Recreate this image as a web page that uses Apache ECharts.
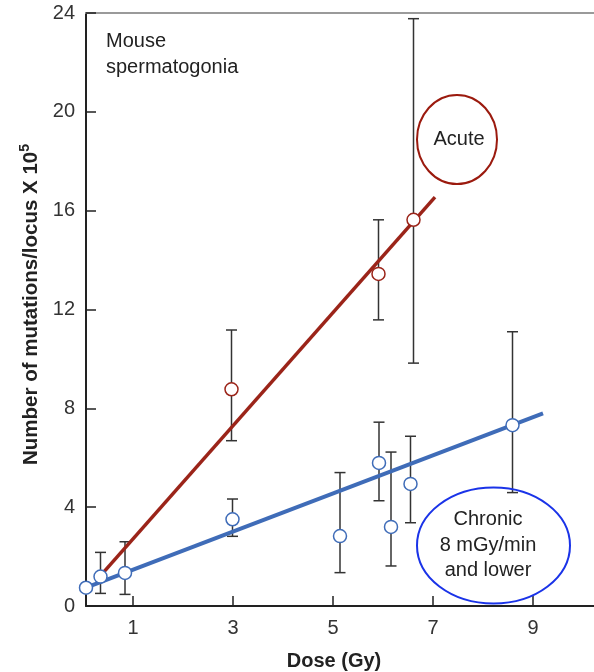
<!DOCTYPE html>
<html>
<head>
<meta charset="utf-8">
<script src="https://cdn.jsdelivr.net/npm/echarts@6/dist/echarts.min.js"></script>
<style>
html,body{margin:0;padding:0;background:#fff;}
#c{width:594px;height:672px;}
</style>
</head>
<body>
<div id="c"></div>
<script>
// ---- data ----
var xTicks = [1, 3, 5, 7, 9];
var yTicks = [0, 4, 8, 12, 16, 20, 24];

var acuteDose  = [2.97, 5.91, 6.61];
var acuteMut   = [8.77, 13.44, 15.63];
var acuteLow   = [6.69, 11.58, 9.83];
var acuteHigh  = [11.17, 15.63, 23.77];

var chronicDose = [0.06, 0.35, 0.84, 2.99, 5.14, 5.92, 6.16, 6.55, 8.59];
var chronicMut  = [0.74, 1.19, 1.34, 3.51, 2.83, 5.79, 3.20, 4.94, 7.32];
var chronicLow  = [null, 0.51, 0.47, 2.82, 1.35, 4.26, 1.62, 3.37, 4.59];
var chronicHigh = [null, 2.17, 2.60, 4.33, 5.40, 7.44, 6.23, 6.87, 11.10];

var acuteFitX = [0.40, 7.04];
var acuteFitY = [1.34, 16.55];
var chronicFitX = [0.06, 9.20];
var chronicFitY = [0.74, 7.80];

// ---- build ----
function pairs(xs, ys) { return xs.map(function (x, i) { return [x, ys[i]]; }); }
function errs(xs, lo, hi) {
  var out = [];
  xs.forEach(function (x, i) { if (lo[i] != null) out.push([x, lo[i], hi[i]]); });
  return out;
}
var errData = errs(acuteDose, acuteLow, acuteHigh).concat(errs(chronicDose, chronicLow, chronicHigh));

var RED = '#9b2419', BLUE = '#3f6cb8';
var FONT = 'Liberation Sans, Arial, Helvetica, sans-serif';

var chart = echarts.init(document.getElementById('c'), null, {renderer: 'canvas'});
chart.setOption({
  animation: false,
  backgroundColor: '#fff',
  grid: {left: 86, right: 0, top: 13, bottom: 66, containLabel: false, outerBoundsMode: 'none'},
  xAxis: [{
    type: 'value', min: 0.06, max: 10.22, position: 'bottom',
    axisLine: {show: true, onZero: false, lineStyle: {color: '#222', width: 2}},
    axisTick: {show: true, inside: true, length: 10, lineStyle: {color: '#222', width: 1.5}, customValues: xTicks},
    axisLabel: {show: true, margin: 12, fontSize: 20, color: '#333', fontFamily: FONT, customValues: xTicks},
    splitLine: {show: false},
    name: 'Dose (Gy)', nameLocation: 'middle', nameGap: 45,
    nameTextStyle: {fontSize: 20, fontWeight: 'bold', color: '#222', fontFamily: FONT, padding: [0, 12, 0, 0]}
  }, {
    type: 'value', min: 0.06, max: 10.22, position: 'top',
    axisLine: {show: true, onZero: false, lineStyle: {color: '#9a9a9a', width: 2}},
    axisTick: {show: false}, axisLabel: {show: false}, splitLine: {show: false}
  }],
  yAxis: {
    type: 'value', min: 0, max: 24, interval: 4,
    axisLine: {show: true, onZero: false, lineStyle: {color: '#222', width: 2}},
    axisTick: {show: true, inside: true, length: 10, lineStyle: {color: '#222', width: 1.5}},
    axisLabel: {show: true, margin: 11, fontSize: 20, color: '#333', fontFamily: FONT,
      formatter: function (v) { return yTicks.indexOf(v) >= 0 ? String(v) : ''; }},
    splitLine: {show: false},
    name: '{a|Number of mutations/locus X 10}{s|5}',
    nameLocation: 'middle', nameGap: 43, nameRotate: 90,
    nameTextStyle: {
      padding: [0, 0, 0, 10],
      rich: {
        a: {fontSize: 20.5, fontWeight: 'bold', color: '#222', fontFamily: FONT, lineHeight: 24, verticalAlign: 'bottom'},
        s: {fontSize: 14, fontWeight: 'bold', color: '#222', fontFamily: FONT, lineHeight: 24, verticalAlign: 'top', padding: [0, 0, 10, 0]}
      }
    }
  },
  series: [{
    type: 'custom', name: 'err', z: 2,
    data: errData,
    renderItem: function (params, api) {
      var x = api.value(0);
      var lo = api.coord([x, api.value(1)]);
      var hi = api.coord([x, api.value(2)]);
      var w = 5.5;
      var st = {stroke: '#333', lineWidth: 1.5};
      return {type: 'group', children: [
        {type: 'line', shape: {x1: lo[0], y1: lo[1], x2: hi[0], y2: hi[1]}, style: st},
        {type: 'line', shape: {x1: lo[0] - w, y1: lo[1], x2: lo[0] + w, y2: lo[1]}, style: st},
        {type: 'line', shape: {x1: hi[0] - w, y1: hi[1], x2: hi[0] + w, y2: hi[1]}, style: st}
      ]};
    }
  }, {
    type: 'line', name: 'chronicFit', z: 3, data: pairs(chronicFitX, chronicFitY),
    symbol: 'none', lineStyle: {color: BLUE, width: 4}
  }, {
    type: 'line', name: 'acuteFit', z: 3, data: pairs(acuteFitX, acuteFitY),
    symbol: 'none', lineStyle: {color: RED, width: 3.5}
  }, {
    type: 'scatter', name: 'chronic', z: 4, data: pairs(chronicDose, chronicMut),
    symbol: 'circle', symbolSize: 13,
    itemStyle: {color: '#fff', borderColor: BLUE, borderWidth: 1.5, opacity: 1}
  }, {
    type: 'scatter', name: 'acute', z: 4, data: pairs(acuteDose, acuteMut),
    symbol: 'circle', symbolSize: 13,
    itemStyle: {color: '#fff', borderColor: RED, borderWidth: 1.5, opacity: 1}
  }],
  graphic: [
    {type: 'text', left: 106, top: 28, z: 10,
      style: {text: 'Mouse\nspermatogonia', fontSize: 20, lineHeight: 26, fill: '#222', fontFamily: FONT}},
    {type: 'ellipse', shape: {cx: 457, cy: 139.5, rx: 40, ry: 44.5}, z: 10,
      style: {fill: 'none', stroke: '#9b1a0e', lineWidth: 2}},
    {type: 'text', x: 459, y: 139.5, z: 11,
      style: {text: 'Acute', fontSize: 20, fill: '#222', fontFamily: FONT, align: 'center', verticalAlign: 'middle'}},
    {type: 'ellipse', shape: {cx: 493.5, cy: 545.5, rx: 76.5, ry: 58}, z: 10,
      style: {fill: 'none', stroke: '#1a33e8', lineWidth: 2}},
    {type: 'text', x: 488, y: 545, z: 11,
      style: {text: 'Chronic\n8 mGy/min\nand lower', fontSize: 20, lineHeight: 25.5, fill: '#222', fontFamily: FONT, align: 'center', verticalAlign: 'middle'}}
  ]
});
</script>
</body>
</html>
